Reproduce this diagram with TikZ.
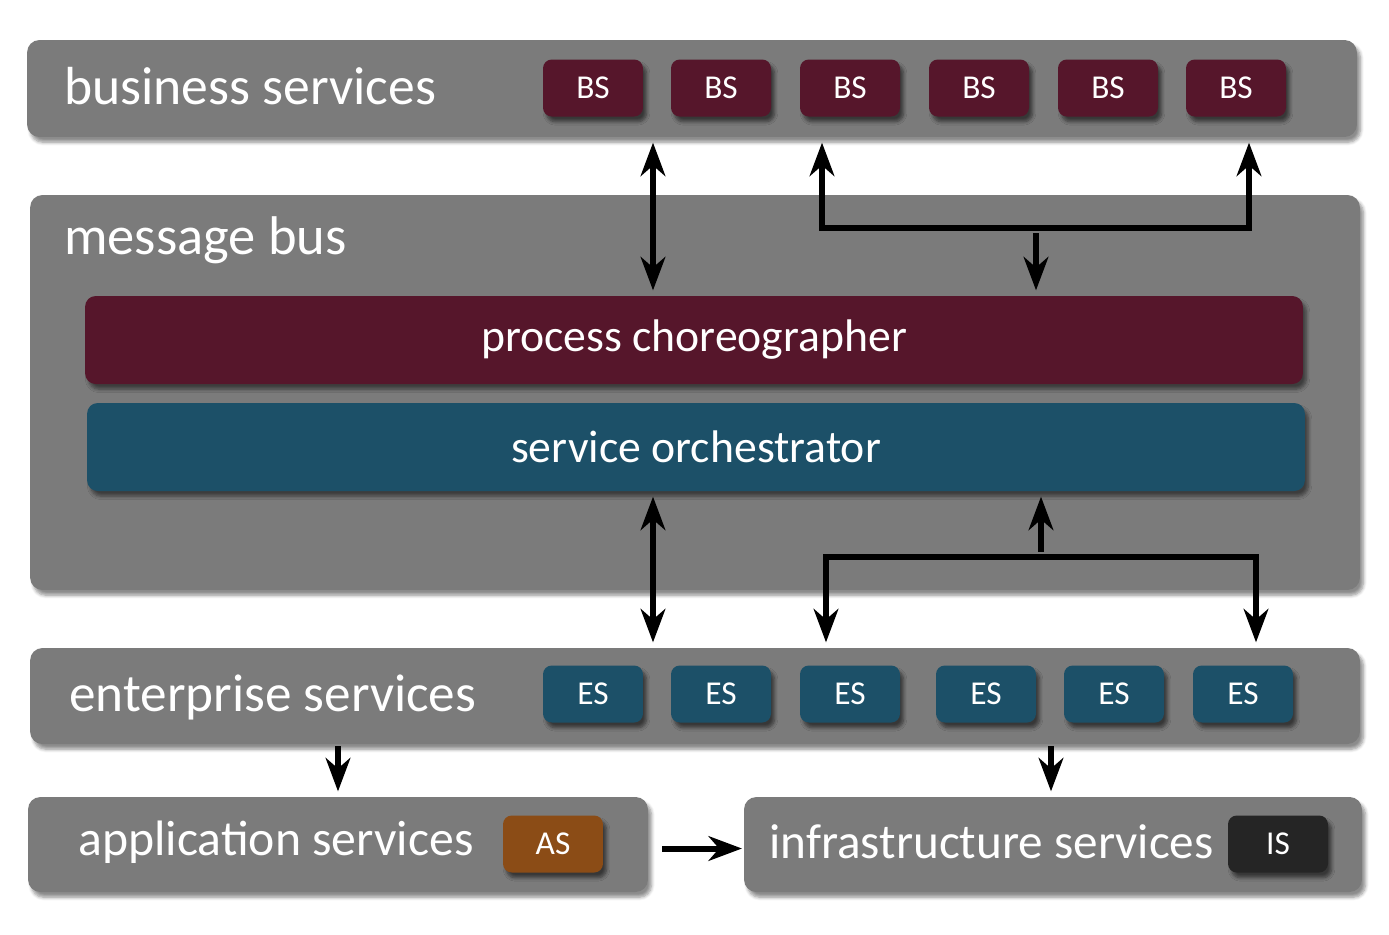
\documentclass[tikz,border=0pt]{standalone}
\usepackage{fontspec}
\setmainfont{Carlito}
\usetikzlibrary{arrows.meta,positioning,calc,shadows.blur}
\definecolor{bargray}{HTML}{7B7B7B}
\definecolor{bsred}{HTML}{56162B}
\definecolor{esblue}{HTML}{1C5068}
\definecolor{asbrown}{HTML}{8B4C16}
\definecolor{isblack}{HTML}{252525}
\tikzset{
  layer/.style={fill=bargray,rounded corners=7pt,inner sep=0pt,
    blur shadow={shadow xshift=2pt,shadow yshift=-3pt,shadow blur steps=6,shadow opacity=45}},
  band/.style={rounded corners=6pt,inner sep=0pt,text=white,font=\fontsize{26}{30}\selectfont,
    minimum width=24.36cm,minimum height=1.76cm,
    blur shadow={shadow xshift=2pt,shadow yshift=-3pt,shadow blur steps=6,shadow opacity=50}},
  tag/.style={rounded corners=5pt,inner sep=0pt,text=white,font=\fontsize{19}{22}\selectfont,
    minimum width=2cm,minimum height=1.14cm,
    blur shadow={shadow xshift=2pt,shadow yshift=-3pt,shadow blur steps=6,shadow opacity=55}},
  title/.style={anchor=west,inner sep=0pt,text=white},
  link/.style={line width=3.4pt,shorten <=3pt,shorten >=3pt},
}
\begin{document}
\begin{tikzpicture}[x=0.02cm,y=-0.02cm,
  >={Stealth[length=19pt,width=14pt,inset=6pt]}]
\useasboundingbox (0,0) rectangle (1389,934);
% layers
\node[layer,minimum width=26.6cm,minimum height=1.94cm] (bsbar) at (692,88.5) {};
\node[layer,minimum width=26.6cm,minimum height=7.9cm] (mbus) at (695,392.5) {};
\node[layer,minimum width=26.6cm,minimum height=1.92cm] (esbar) at (695,696) {};
\node[layer,minimum width=12.4cm,minimum height=1.9cm] (apps) at (338,844.5) {};
\node[layer,minimum width=12.36cm,minimum height=1.9cm] (infs) at (1053,844.5) {};
% titles
\node[title,font=\fontsize{30.5}{34}\selectfont] (bstitle) at (64,86) {business services};
\node[title,font=\fontsize{31}{34}\selectfont] (mbtitle) at (64,240) {message bus};
\node[title,font=\fontsize{30.3}{34}\selectfont] (estitle) at (69,697) {enterprise services};
\node[title,font=\fontsize{28.3}{32}\selectfont] (astitle) at (78,842) {application services};
\node[title,font=\fontsize{28}{32}\selectfont] (istitle) at (769,842) {infrastructure services};
% bus contents
\node[band,fill=bsred] (pc) at (694,340) {process choreographer};
\node[band,fill=esblue] (so) at (696,447) {service orchestrator};
% service tags
\foreach \x [count=\i] in {593,721,850,979,1108,1236}
  \node[tag,fill=bsred] (bs\i) at (\x,88) {BS};
\foreach \x [count=\i] in {593,721,850,986,1114,1243}
  \node[tag,fill=esblue] (es\i) at (\x,694) {ES};
\node[tag,fill=asbrown] (as) at (553,844) {AS};
\node[tag,fill=isblack] (is) at (1278,844) {IS};
% connectors
\coordinate (ta) at (653,228);
\coordinate (tl) at (822,228);
\coordinate (tr) at (1249,228);
\coordinate (tj) at (1036,228);
\coordinate (bl) at (826,557);
\coordinate (br) at (1256,557);
\coordinate (bj) at (1041,557);
\coordinate (da) at (338,0);
\coordinate (di) at (1051,0);
\draw[link,<->] (ta |- bsbar.south) -- (ta |- pc.north);
\draw[link,<->] (tl |- bsbar.south) -- (tl) -- (tr) -- (tr |- bsbar.south);
\draw[link,->] (tj) -- (tj |- pc.north);
\draw[link,<->] (ta |- so.south) -- (ta |- esbar.north);
\draw[link,<->] (bl |- esbar.north) -- (bl) -- (br) -- (br |- esbar.north);
\draw[link,->] (bj) -- (bj |- so.south);
\draw[link,->,shorten <=1pt] (da |- esbar.south) -- (da |- apps.north);
\draw[link,->,shorten <=1pt] (di |- esbar.south) -- (di |- infs.north);
\draw[link,->,shorten <=8pt,shorten >=1pt] ($(apps.east)+(0,4)$) -- ($(infs.west)+(0,4)$);
\end{tikzpicture}
\end{document}
